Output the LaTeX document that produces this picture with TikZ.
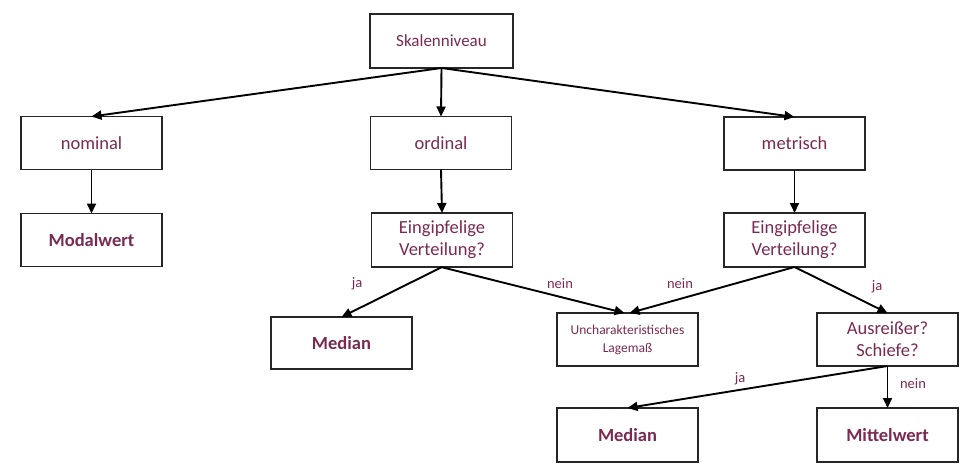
\documentclass[tikz,border=0pt]{standalone}
\usepackage{fontspec}
\setmainfont{Carlito}
\usetikzlibrary{arrows.meta}
\definecolor{maroon}{RGB}{122,42,80}
\tikzset{
  box/.style={draw=black!85, line width=1.1pt, minimum width=141pt, minimum height=53pt, inner sep=0pt, outer sep=0pt, align=center, text=maroon, font=\fontsize{18.5}{22}\selectfont},
  boldbox/.style={box, font=\fontsize{18.5}{22}\selectfont\bfseries},
  conn/.style={line width=1.9pt, -{Triangle[length=10pt,width=9pt]}},
  lab/.style={text=maroon, font=\fontsize{14.5}{17}\selectfont, inner sep=0pt}
}
\begin{document}
\begin{tikzpicture}[x=1pt,y=-1pt]
\useasboundingbox (0,0) rectangle (968,472);
\node[box, minimum width=143pt, minimum height=54pt, font=\fontsize{17}{20}\selectfont] (sk) at (441.5,41) {Skalenniveau};
\node[box] (nom) at (91.5,143) {nominal};
\node[boldbox] (modal) at (91.5,240) {Modalwert};
\node[box] (ord) at (441,143) {ordinal};
\node[box] (met) at (794.5,143.5) {metrisch};
\node[box, minimum height=54pt] (eg1) at (442,240) {Eingipfelige\\Verteilung?};
\node[box, minimum height=54pt] (eg2) at (794.5,240) {Eingipfelige\\Verteilung?};
\node[boldbox, minimum height=52pt] (med1) at (341.5,343) {Median};
\node[box, font=\fontsize{13.5}{18}\selectfont] (unch) at (627.5,339.5) {Uncharakteristisches\\Lagemaß};
\node[box] (aus) at (887.5,339.5) {Ausreißer?\\Schiefe?};
\node[boldbox, minimum height=54pt] (med2) at (627.5,435) {Median};
\node[boldbox, minimum height=54pt] (mit) at (887.5,435) {Mittelwert};

\draw[conn] (sk.south) -- (nom.north);
\draw[conn] (sk.south) -- (ord.north);
\draw[conn] (sk.south) -- (met.north);
\draw[conn] (nom.south) -- (modal.north);
\draw[conn] (ord.south) -- (eg1.north);
\draw[conn] (met.south) -- (eg2.north);
\draw[conn] (eg1.south) -- (med1.north);
\draw[conn] ([xshift=-1pt]eg1.south) -- ([xshift=-3pt]unch.north);
\draw[conn] (eg2.south) -- ([xshift=2pt]unch.north);
\draw[conn] (eg2.south) -- (aus.north);
\draw[conn] (aus.south) -- (med2.north);
\draw[conn] (aus.south) -- (mit.north);

\node[lab] (l1) at (357,284) {ja};
\node[lab] (l2) at (560,284) {nein};
\node[lab] (l3) at (680,284) {nein};
\node[lab] (l4) at (877,287) {ja};
\node[lab] (l5) at (740,379) {ja};
\node[lab] (l6) at (913,384) {nein};
\end{tikzpicture}
\end{document}
